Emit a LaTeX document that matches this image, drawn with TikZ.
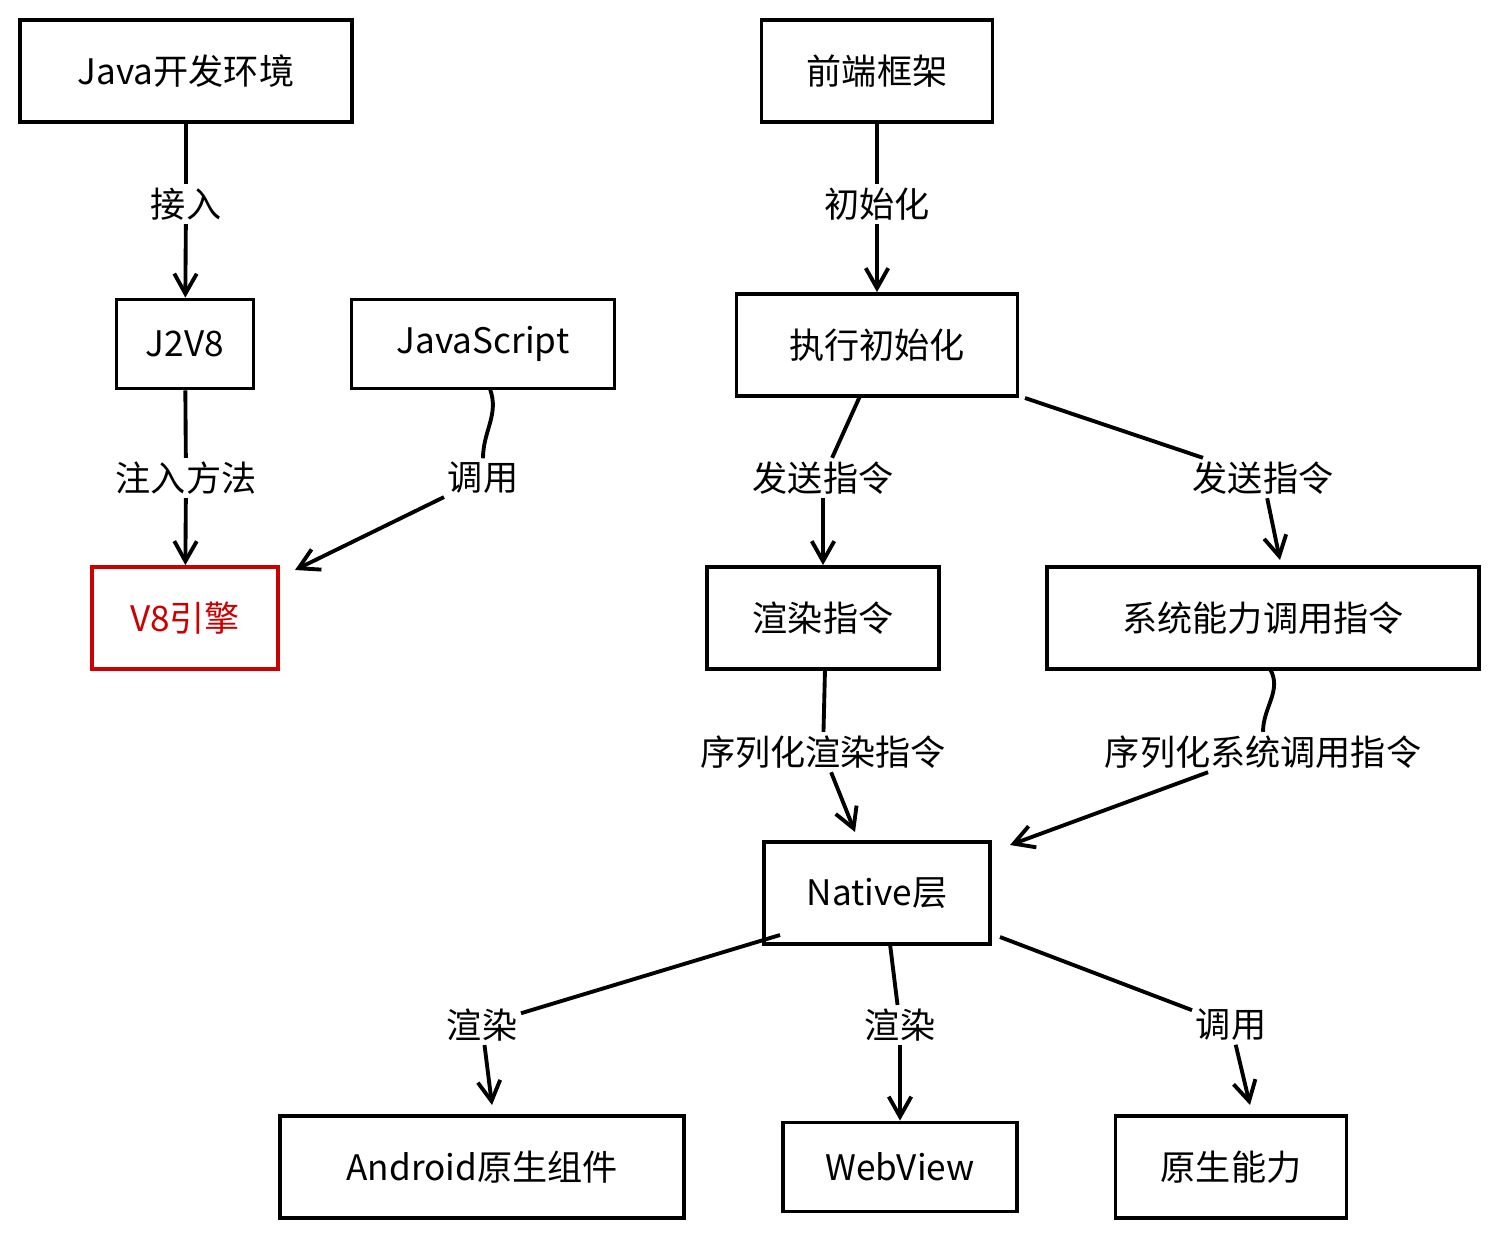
\documentclass[tikz,border=0pt]{standalone}
\usepackage{fontspec}
\setmainfont{Noto Sans CJK SC}
\usetikzlibrary{arrows.meta}
\begin{document}
\begin{tikzpicture}[x=0.02cm,y=-0.02cm,
 box/.style={draw,line width=2.2pt,minimum height=#1,inner sep=0pt,font=\fontsize{20}{24}\selectfont},
 box/.default=2.04cm,
 lab/.style={inner sep=2pt,font=\fontsize{20}{24}\selectfont},
 ed/.style={line width=2.2pt},
 ar/.style={ed,-{Straight Barb[length=4mm,width=4.5mm]}}]
\useasboundingbox (0,0) rectangle (1497,1238);
\node[box,minimum width=6.64cm] (java) at (186,71) {Java开发环境};
\node[box,minimum width=4.62cm] (fe) at (877,71) {前端框架};
\node[box=1.78cm,minimum width=2.74cm] (j2v8) at (185,344) {J2V8};
\node[box=1.78cm,minimum width=5.26cm] (js) at (483,344) {JavaScript};
\node[box,minimum width=5.62cm] (init) at (877,345) {执行初始化};
\node[box,minimum width=3.72cm,draw=red!80!black,text=red!80!black] (v8) at (185,618) {V8引擎};
\node[box,minimum width=4.64cm] (render) at (823,618) {渲染指令};
\node[box,minimum width=8.64cm] (sys) at (1263,618) {系统能力调用指令};
\node[box,minimum width=4.52cm] (native) at (877,893) {Native层};
\node[box,minimum width=8.08cm] (android) at (482,1167) {Android原生组件};
\node[box=1.78cm,minimum width=4.68cm] (web) at (900,1167) {WebView};
\node[box,minimum width=4.62cm] (cap) at (1231,1167) {原生能力};

\node[lab] (l1) at (186,204) {接入};
\node[lab] (l2) at (186,478) {注入方法};
\node[lab] (l3) at (483,478) {调用};
\node[lab] (l4) at (877,204) {初始化};
\node[lab] (l5) at (823,478) {发送指令};
\node[lab] (l6) at (1263,478) {发送指令};
\node[lab] (l7) at (823,752) {序列化渲染指令};
\node[lab] (l8) at (1263,752) {序列化系统调用指令};
\node[lab] (l9) at (482,1025) {渲染};
\node[lab] (l10) at (900,1025) {渲染};
\node[lab] (l11) at (1231,1025) {调用};

\coordinate (c3) at (490,389);
\coordinate (c5) at (860,396);
\coordinate (c6) at (1025,398);
\coordinate (c7) at (825,669);
\coordinate (c8) at (1270,669);
\coordinate (c9) at (780,935);
\coordinate (c10) at (890,944);
\coordinate (c11) at (1000,937);
\coordinate (e3) at (295,570);
\coordinate (e6) at (1280,560);
\coordinate (e7) at (855,832);
\coordinate (e8) at (1010,845);
\coordinate (e9) at (492,1105);
\coordinate (e11) at (1250,1105);

\draw[ed] (java) -- (l1); \draw[ar] (l1) -- (j2v8);
\draw[ed] (j2v8) -- (l2); \draw[ar] (l2) -- (v8);
\draw[ed] (c3) to[out=-70,in=90] (l3); \draw[ar] (l3) -- (e3);
\draw[ed] (fe) -- (l4); \draw[ar] (l4) -- (init);
\draw[ed] (c5) -- (l5); \draw[ar] (l5) -- (render);
\draw[ed] (c6) -- (l6); \draw[ar] (l6) -- (e6);
\draw[ed] (c7) -- (l7); \draw[ar] (l7) -- (e7);
\draw[ed] (c8) to[out=-60,in=90] (l8); \draw[ar] (l8) -- (e8);
\draw[ed] (c9) -- (l9); \draw[ar] (l9) -- (e9);
\draw[ed] (c10) -- (l10); \draw[ar] (l10) -- (web);
\draw[ed] (c11) -- (l11); \draw[ar] (l11) -- (e11);
\end{tikzpicture}
\end{document}
